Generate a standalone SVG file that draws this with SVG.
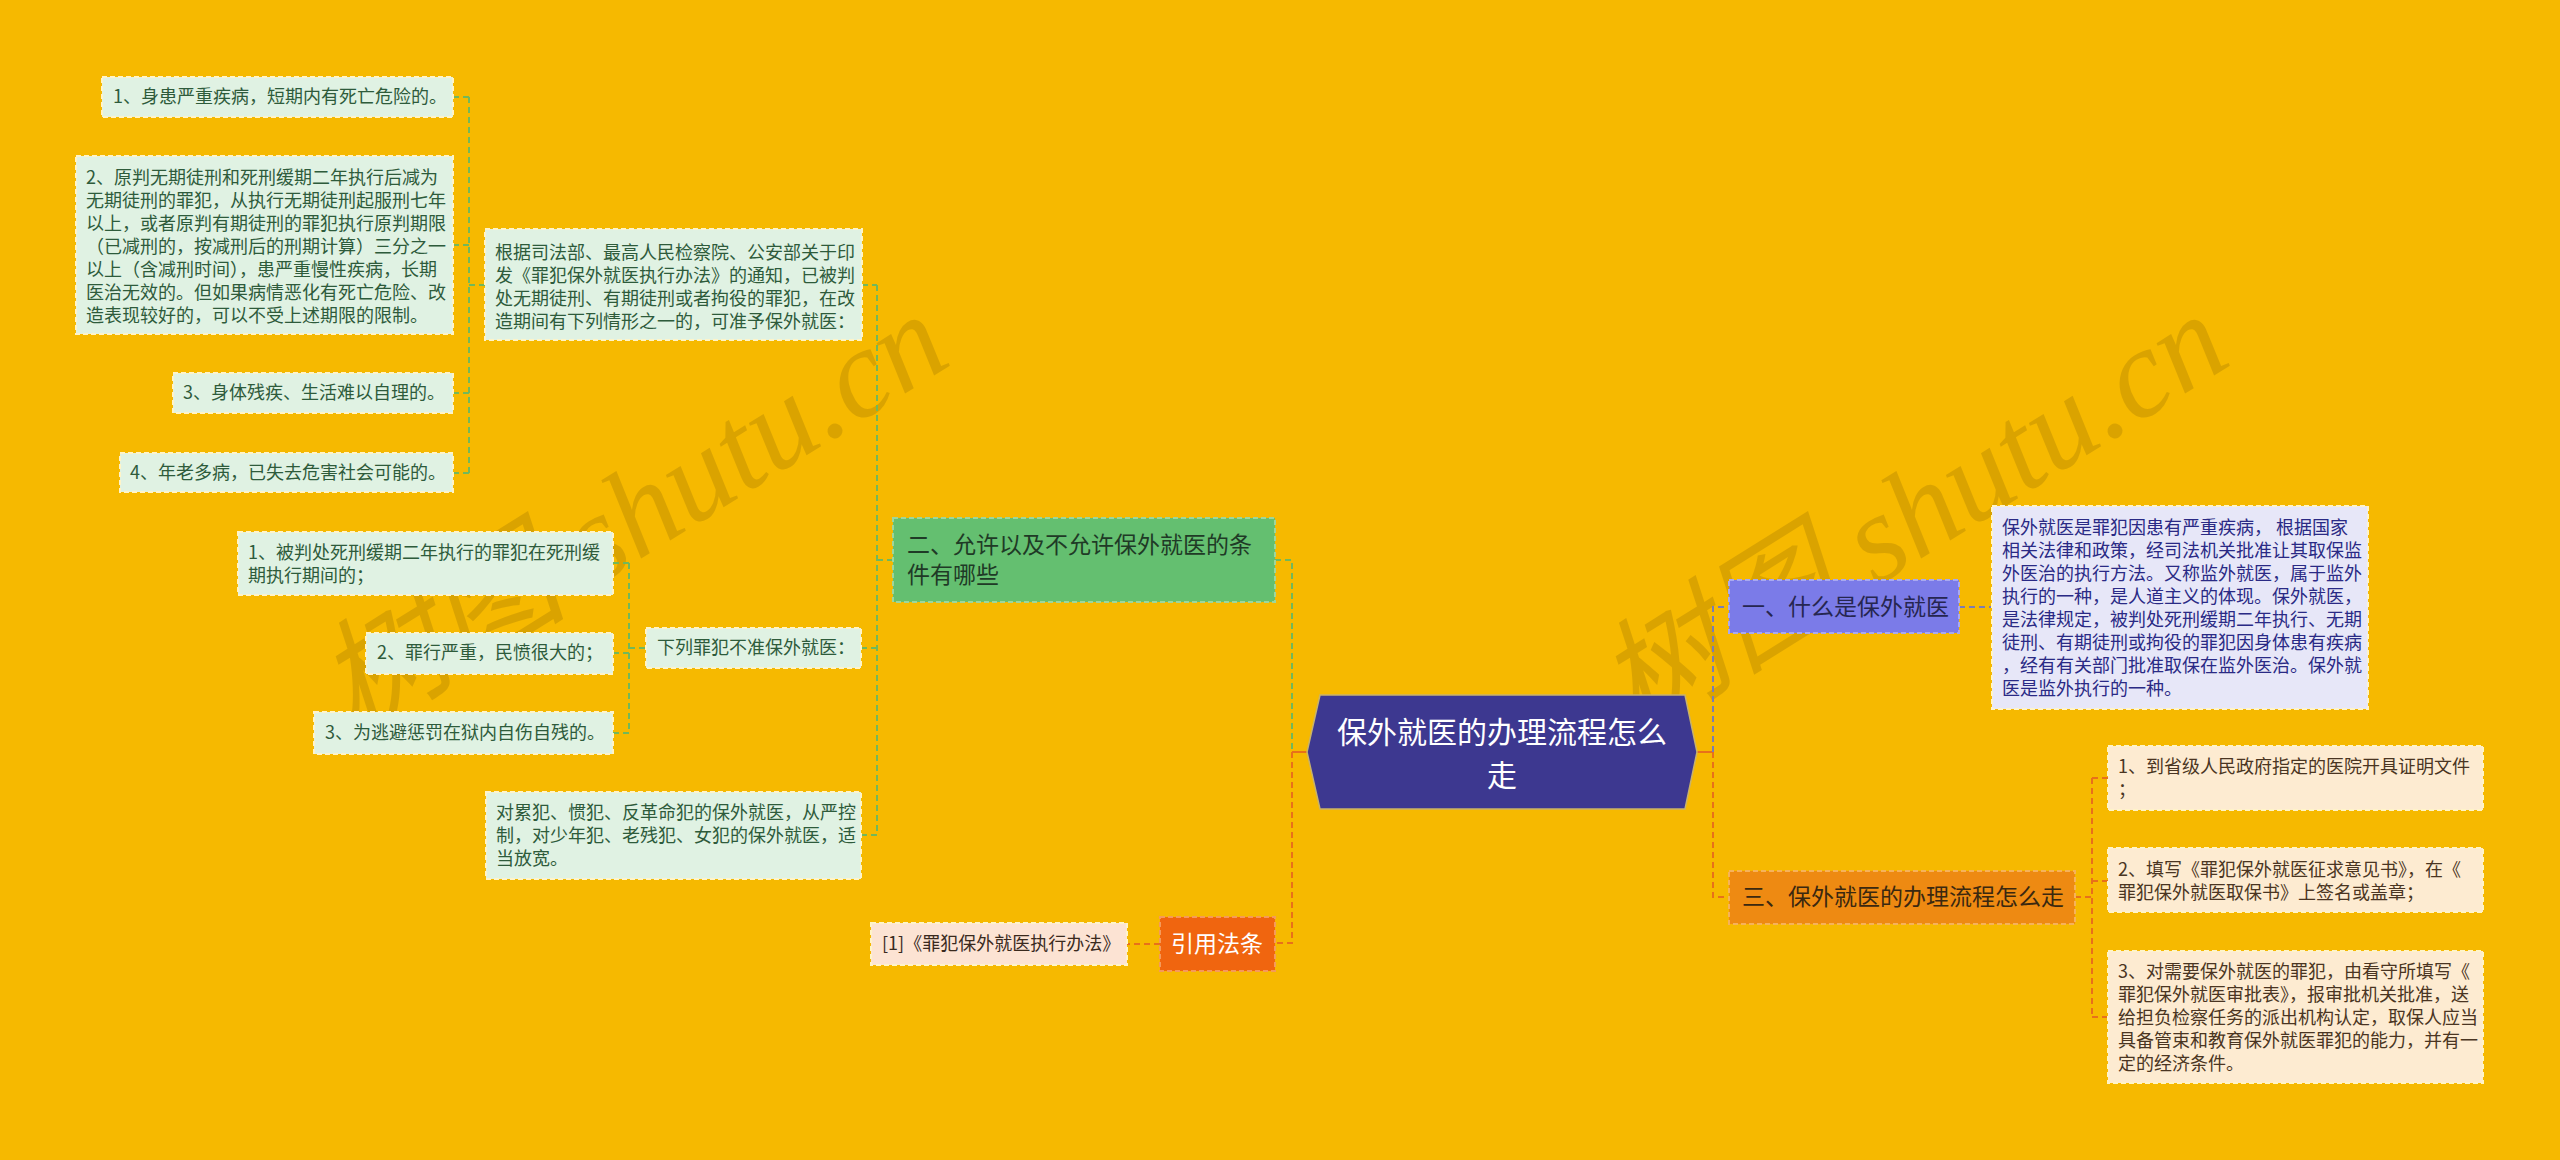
<svg xmlns="http://www.w3.org/2000/svg" width="2560" height="1160" viewBox="0 0 2560 1160">
<style>
text{font-family:"Noto Sans CJK SC","Noto Sans",sans-serif;}
.t18{font-size:18px;}
.t23{font-size:23px;}
.mint{fill:#E0F2E3;stroke:#FFF4C8;stroke-width:2;stroke-dasharray:5 3;}
.mintT{fill:#2E5B3B;}
.g1{fill:#64BF70;stroke:#9ED69A;stroke-width:2;stroke-dasharray:5 3;}
.g1T{fill:#1F3A26;}
.b1{fill:#7B7BE8;stroke:#A9A9F0;stroke-width:2;stroke-dasharray:5 3;}
.b1T{fill:#262650;}
.lav{fill:#E7E7F8;stroke:#FFF4C8;stroke-width:2;stroke-dasharray:5 3;}
.lavT{fill:#2A2A85;}
.o1{fill:#EE8A12;stroke:#F6B25A;stroke-width:2;stroke-dasharray:5 3;}
.o1T{fill:#3A2810;}
.cream{fill:#FDEBD1;stroke:#FFF4C8;stroke-width:2;stroke-dasharray:5 3;}
.creamT{fill:#4A3522;}
.ref{fill:#F0650F;stroke:#F59A5A;stroke-width:2;stroke-dasharray:5 3;}
.refT{fill:#FFFFFF;}
.pink{fill:#FCE3D3;stroke:#FFF4C8;stroke-width:2;stroke-dasharray:5 3;}
.pinkT{fill:#3A2A1E;}
.cg{stroke:#72B85A;stroke-width:2;stroke-dasharray:6 4;fill:none;}
.cb{stroke:#7C7CB4;stroke-width:2;stroke-dasharray:6 4;fill:none;}
.co{stroke:#E8701A;stroke-width:2;stroke-dasharray:6 4;fill:none;}
.cos{stroke:#E8701A;stroke-width:2;fill:none;}
.wm{font-family:"Liberation Serif","Noto Sans CJK SC",serif;font-style:italic;font-size:126px;fill:#7A5A00;opacity:0.22;}
</style>
<rect x="0" y="0" width="2560" height="1160" fill="#F6B900"/>

<g id="watermarks">
<text class="wm" x="0" y="0" text-anchor="middle" transform="translate(655,550) rotate(-32)">树图 shutu.cn</text>
<text class="wm" x="0" y="0" text-anchor="middle" transform="translate(1935,550) rotate(-32)">树图 shutu.cn</text>
</g>

<g id="connectors">
<path class="cg" d="M453,97 H469 M453,245 H469 M453,393 H469 M453,473 H469 M469,97 V473 M469,285 H485"/>
<path class="cg" d="M613,563 H629 M613,653 H629 M613,733 H629 M629,563 V733 M629,648 H646"/>
<path class="cg" d="M862,285 H877 M861,648 H877 M861,835 H877 M877,285 V835 M877,560 H893"/>
<path class="cg" d="M1275,560 H1292 V752"/>
<path class="co" d="M1292,752 V943 H1275"/>
<path class="co" d="M1160,944 H1127"/>
<path class="cos" d="M1292,752 H1307"/>
<path class="cos" d="M1697,752 H1713"/>
<path class="cb" d="M1713,752 V607 H1729"/>
<path class="co" d="M1713,752 V897 H1729"/>
<path class="cb" d="M1959,607 H1992"/>
<path class="co" d="M2075,897 H2092 M2092,778 V1017 M2092,778 H2108 M2092,881 H2108 M2092,1017 H2108"/>
</g>

<g id="center">
<polygon points="1320,695 1685,695 1697,752 1685,809 1320,809 1307,752" fill="#3D3890" stroke="#C9B36A" stroke-width="1.5"/>
<text x="1502" y="743" font-size="30" fill="#FFFFFF" text-anchor="middle">保外就医的办理流程怎么</text>
<text x="1502" y="786" font-size="30" fill="#FFFFFF" text-anchor="middle">走</text>
</g>

<g id="n-green1">
<rect class="g1" x="893" y="518" width="382" height="84"/>
<text class="t23 g1T" x="907" y="553">二、允许以及不允许保外就医的条</text>
<text class="t23 g1T" x="907" y="583">件有哪些</text>
</g>

<g id="n-basis">
<rect class="mint" x="485" y="229" width="377" height="111"/>
<text class="t18 mintT" x="495" y="259">根据司法部、最高人民检察院、公安部关于印</text>
<text class="t18 mintT" x="495" y="282">发《罪犯保外就医执行办法》的通知，已被判</text>
<text class="t18 mintT" x="495" y="305">处无期徒刑、有期徒刑或者拘役的罪犯，在改</text>
<text class="t18 mintT" x="495" y="328">造期间有下列情形之一的，可准予保外就医：</text>
</g>

<g id="n-a1">
<rect class="mint" x="102" y="77" width="351" height="40"/>
<text class="t18 mintT" x="113" y="103">1、身患严重疾病，短期内有死亡危险的。</text>
</g>
<g id="n-a2">
<rect class="mint" x="76" y="156" width="377" height="178"/>
<text class="t18 mintT" x="86" y="184">2、原判无期徒刑和死刑缓期二年执行后减为</text>
<text class="t18 mintT" x="86" y="207">无期徒刑的罪犯，从执行无期徒刑起服刑七年</text>
<text class="t18 mintT" x="86" y="230">以上，或者原判有期徒刑的罪犯执行原判期限</text>
<text class="t18 mintT" x="86" y="253">（已减刑的，按减刑后的刑期计算）三分之一</text>
<text class="t18 mintT" x="86" y="276">以上（含减刑时间），患严重慢性疾病，长期</text>
<text class="t18 mintT" x="86" y="299">医治无效的。但如果病情恶化有死亡危险、改</text>
<text class="t18 mintT" x="86" y="322">造表现较好的，可以不受上述期限的限制。</text>
</g>
<g id="n-a3">
<rect class="mint" x="173" y="373" width="280" height="40"/>
<text class="t18 mintT" x="183" y="399">3、身体残疾、生活难以自理的。</text>
</g>
<g id="n-a4">
<rect class="mint" x="120" y="453" width="333" height="39"/>
<text class="t18 mintT" x="130" y="479">4、年老多病，已失去危害社会可能的。</text>
</g>

<g id="n-forbid">
<rect class="mint" x="646" y="628" width="215" height="40"/>
<text class="t18 mintT" x="657" y="654">下列罪犯不准保外就医：</text>
</g>
<g id="n-b1">
<rect class="mint" x="238" y="532" width="375" height="63"/>
<text class="t18 mintT" x="248" y="559">1、被判处死刑缓期二年执行的罪犯在死刑缓</text>
<text class="t18 mintT" x="248" y="582">期执行期间的；</text>
</g>
<g id="n-b2">
<rect class="mint" x="366" y="633" width="247" height="41"/>
<text class="t18 mintT" x="377" y="659">2、罪行严重，民愤很大的；</text>
</g>
<g id="n-b3">
<rect class="mint" x="314" y="712" width="299" height="42"/>
<text class="t18 mintT" x="325" y="739">3、为逃避惩罚在狱内自伤自残的。</text>
</g>

<g id="n-strict">
<rect class="mint" x="486" y="792" width="375" height="87"/>
<text class="t18 mintT" x="496" y="819">对累犯、惯犯、反革命犯的保外就医，从严控</text>
<text class="t18 mintT" x="496" y="842">制，对少年犯、老残犯、女犯的保外就医，适</text>
<text class="t18 mintT" x="496" y="865">当放宽。</text>
</g>

<g id="n-refhead">
<rect class="ref" x="1160" y="917" width="115" height="54"/>
<text class="t23 refT" x="1217" y="952" text-anchor="middle">引用法条</text>
</g>
<g id="n-ref1">
<rect class="pink" x="871" y="923" width="256" height="42"/>
<text class="t18 pinkT" x="882" y="950">[1]《罪犯保外就医执行办法》</text>
</g>

<g id="n-blue1">
<rect class="b1" x="1729" y="580" width="230" height="53"/>
<text class="t23 b1T" x="1742" y="615">一、什么是保外就医</text>
</g>
<g id="n-desc">
<rect class="lav" x="1992" y="506" width="376" height="203"/>
<text class="t18 lavT" x="2002" y="534" xml:space="preserve">保外就医是罪犯因患有严重疾病， 根据国家</text>
<text class="t18 lavT" x="2002" y="557">相关法律和政策，经司法机关批准让其取保监</text>
<text class="t18 lavT" x="2002" y="580">外医治的执行方法。又称监外就医，属于监外</text>
<text class="t18 lavT" x="2002" y="603">执行的一种，是人道主义的体现。保外就医，</text>
<text class="t18 lavT" x="2002" y="626">是法律规定，被判处死刑缓期二年执行、无期</text>
<text class="t18 lavT" x="2002" y="649">徒刑、有期徒刑或拘役的罪犯因身体患有疾病</text>
<text class="t18 lavT" x="2002" y="672">，经有有关部门批准取保在监外医治。保外就</text>
<text class="t18 lavT" x="2002" y="695">医是监外执行的一种。</text>
</g>

<g id="n-orange1">
<rect class="o1" x="1729" y="871" width="346" height="53"/>
<text class="t23 o1T" x="1742" y="905">三、保外就医的办理流程怎么走</text>
</g>
<g id="n-c1">
<rect class="cream" x="2108" y="746" width="375" height="64"/>
<text class="t18 creamT" x="2118" y="773">1、到省级人民政府指定的医院开具证明文件</text>
<text class="t18 creamT" x="2118" y="796">；</text>
</g>
<g id="n-c2">
<rect class="cream" x="2108" y="848" width="375" height="64"/>
<text class="t18 creamT" x="2118" y="876">2、填写《罪犯保外就医征求意见书》，在《</text>
<text class="t18 creamT" x="2118" y="899">罪犯保外就医取保书》上签名或盖章；</text>
</g>
<g id="n-c3">
<rect class="cream" x="2108" y="951" width="375" height="132"/>
<text class="t18 creamT" x="2118" y="978">3、对需要保外就医的罪犯，由看守所填写《</text>
<text class="t18 creamT" x="2118" y="1001">罪犯保外就医审批表》，报审批机关批准，送</text>
<text class="t18 creamT" x="2118" y="1024">给担负检察任务的派出机构认定，取保人应当</text>
<text class="t18 creamT" x="2118" y="1047">具备管束和教育保外就医罪犯的能力，并有一</text>
<text class="t18 creamT" x="2118" y="1070">定的经济条件。</text>
</g>
</svg>
